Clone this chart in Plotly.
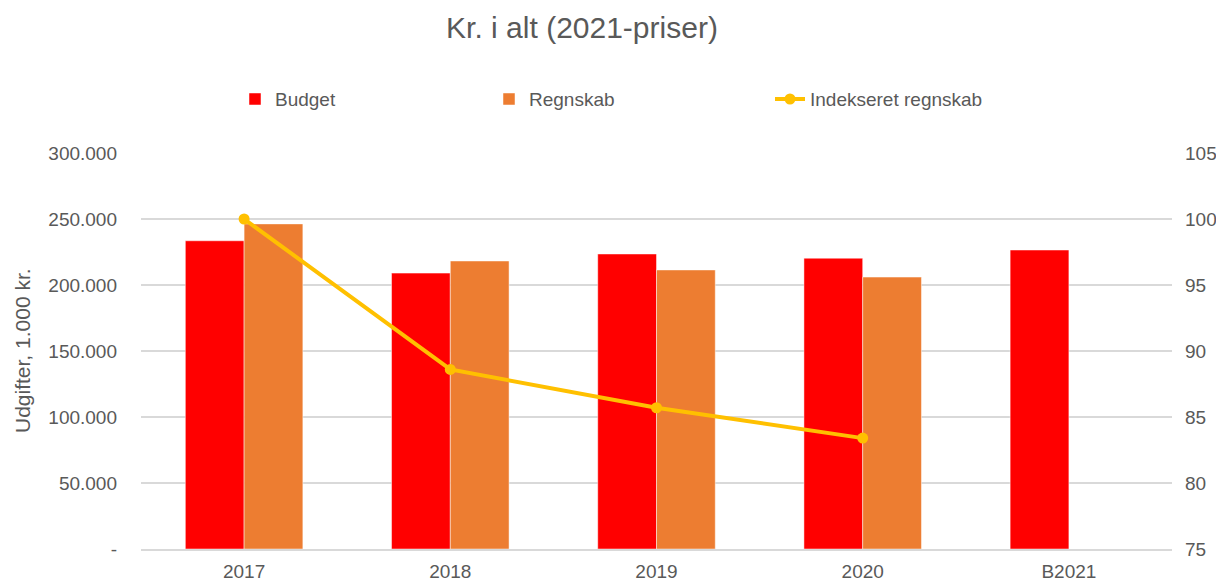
import plotly.graph_objects as go

categories = ["2017", "2018", "2019", "2020", "B2021"]
budget = [233500, 209000, 223500, 220300, 226500]
regnskab = [246300, 218200, 211400, 206000, None]
indeks = [100.0, 88.6, 85.7, 83.4, None]

left_tickvals = [0, 50000, 100000, 150000, 200000, 250000, 300000]
left_ticktext = ["-", "50.000", "100.000", "150.000", "200.000", "250.000", "300.000"]
right_tickvals = [75, 80, 85, 90, 95, 100, 105]

grey = "#595959"
font = "Arial, Liberation Sans, sans-serif"
fs = 19

fig = go.Figure()
fig.add_trace(go.Bar(x=categories, y=budget, name="Budget", legend="legend",
                     marker=dict(color="#FF0000", line=dict(color="rgba(255,255,255,0.6)", width=0.8))))
fig.add_trace(go.Bar(x=categories, y=regnskab, name="Regnskab", legend="legend2",
                     marker=dict(color="#ED7D31", line=dict(color="rgba(255,255,255,0.6)", width=0.8))))
fig.add_trace(go.Scatter(x=categories, y=indeks, name="Indekseret regnskab", yaxis="y2", legend="legend3",
                         mode="lines+markers", line=dict(color="#FFC000", width=4),
                         marker=dict(size=11, color="#FFC000")))

# the page body adds an 8px offset; the figure is sized to fit the window exactly
FW, FH = 1216, 574
L, R, T, B = 133, 52, 145, 33
PW = FW - L - R

def lx(px):
    return (px - L) / PW

leg_common = dict(orientation="h", xanchor="left", y=1.136, yanchor="middle",
                  font=dict(size=fs, color=grey, family=font), bgcolor="rgba(0,0,0,0)")

fig.update_layout(
    width=FW, height=FH,
    paper_bgcolor="white", plot_bgcolor="white",
    margin=dict(l=L, r=R, t=T, b=B, autoexpand=False),
    font=dict(family=font, color=grey, size=fs),
    title=dict(text="Kr. i alt (2021-priser)", x=574 / FW, xanchor="center", xref="container",
               y=1 - 19 / FH, yanchor="middle", yref="container",
               font=dict(size=30, color=grey, family=font)),
    barmode="group", bargap=0.43, bargroupgap=0,
    showlegend=True,
    legend=dict(x=lx(227), **leg_common),
    legend2=dict(x=lx(481), **leg_common),
    legend3=dict(x=lx(762), **leg_common),
    xaxis=dict(showgrid=False, showline=True, linecolor="#D9D9D9", linewidth=1.5, automargin=False,
               tickfont=dict(size=fs, color=grey), ticks="", ticklabelstandoff=4),
    yaxis=dict(range=[0, 300000], tickvals=left_tickvals, ticktext=left_ticktext, automargin=False,
               showgrid=True, gridcolor="#D9D9D9", gridwidth=1.5, zeroline=False,
               tickfont=dict(size=fs, color=grey), ticks="", ticklabelstandoff=23),
    yaxis2=dict(range=[75, 105], tickvals=right_tickvals, overlaying="y", side="right", automargin=False,
                showgrid=False, zeroline=False, tickfont=dict(size=fs, color=grey),
                ticks="", ticklabelstandoff=12),
    annotations=[dict(text="Udgifter, 1.000 kr.", xref="paper", yref="paper",
                      x=lx(14), y=0.5, xanchor="center", yanchor="middle", textangle=-90,
                      showarrow=False, font=dict(size=21, color=grey, family=font))],
)

fig.write_html("out.html")
